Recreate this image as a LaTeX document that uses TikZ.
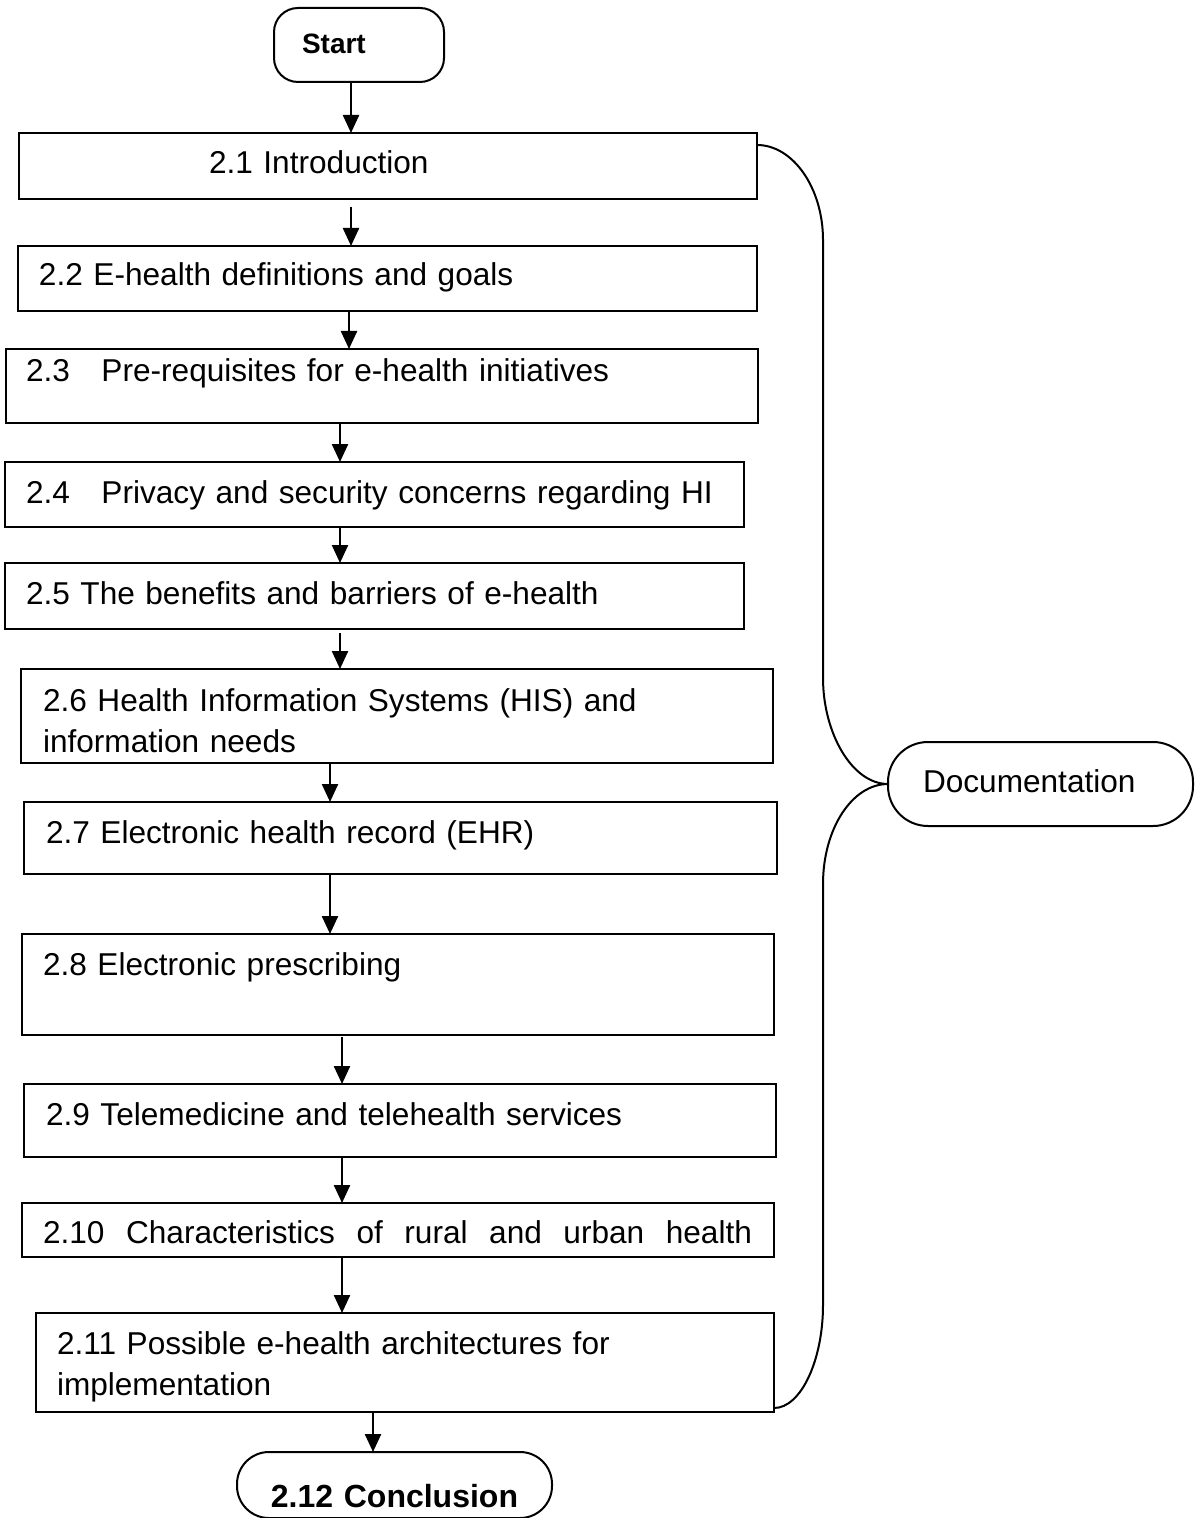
\documentclass[tikz,border=0pt]{standalone}
\usepackage{fontspec}
\setmainfont{Liberation Sans}
\usetikzlibrary{arrows.meta,calc}
\newcommand\secfont{\fontsize{15.8}{20.5}\selectfont\fontdimen2\font=3.6pt\relax}
\begin{document}
\begin{tikzpicture}[x=0.5pt,y=-0.5pt,
  secbox/.style={draw, line width=1pt, rectangle, anchor=north west, outer sep=0pt,
    inner ysep=0pt, align=left, font=\secfont},
  termbox/.style={draw, line width=1pt, rectangle, anchor=north west, outer sep=0pt,
    inner ysep=0pt},
  arr/.style={-{Triangle[length=9pt,width=8pt]}, line width=1.2pt},
  link/.style={line width=1pt}]
\useasboundingbox (0,0) rectangle (1195,1518);
\fill[white] (0,0) rectangle (1195,1518);

% terminals
\node[termbox, rounded corners=12pt, inner xsep=14pt, text width=57pt, align=left,
  text height=23pt, text depth=14pt, font=\fontsize{14}{17}\selectfont\bfseries]
  (start) at (274,8) {Start};

% chapter sections
\node[secbox, inner xsep=95pt, text width=179pt, text height=20.5pt, text depth=12.5pt]
  (b1) at (19,133) {2.1 Introduction};
\node[secbox, inner xsep=10.5pt, text width=348.5pt, text height=20pt, text depth=12.5pt]
  (b2) at (18,246) {2.2 E-health definitions and goals};
\node[secbox, inner xsep=10pt, text width=356pt, text height=16.5pt, text depth=20.5pt]
  (b3) at (6,349) {2.3~~~Pre-requisites for e-health initiatives};
\node[secbox, inner xsep=10.5pt, text width=348.5pt, text height=20.5pt, text depth=12pt]
  (b4) at (5,462) {2.4~~~Privacy and security concerns regarding HI};
\node[secbox, inner xsep=10.5pt, text width=348.5pt, text height=20.5pt, text depth=12.5pt]
  (b5) at (5,563) {2.5 The benefits and barriers of e-health};
\node[secbox, inner xsep=11pt, text width=354pt, text height=21pt, text depth=26pt]
  (b6) at (21,669) {2.6 Health Information Systems (HIS) and\\ information needs};
\node[secbox, inner xsep=11pt, text width=354.5pt, text height=20.5pt, text depth=15.5pt]
  (b7) at (24,802) {2.7 Electronic health record (EHR)};
\node[secbox, inner xsep=10.5pt, text width=355pt, text height=20.5pt, text depth=30pt]
  (b8) at (22,934) {2.8 Electronic prescribing};
\node[secbox, inner xsep=11pt, text width=354pt, text height=20.5pt, text depth=16pt]
  (b9) at (24,1084) {2.9 Telemedicine and telehealth services};
\node[secbox, inner xsep=10.5pt, text width=355pt, text height=20pt, text depth=7pt]
  (b10) at (22,1203) {\hbox to 354.5pt{2.10\hfill Characteristics\hfill of\hfill rural\hfill
    and\hfill urban\hfill health}};
\node[secbox, inner xsep=10.5pt, text width=348pt, text height=20.5pt, text depth=29pt]
  (b11) at (36,1313) {2.11 Possible e-health architectures for\\ implementation};

\node[termbox, rounded corners=16pt, inner xsep=0pt, text width=157.5pt, align=center,
  text height=27.5pt, text depth=5.5pt, font=\fontsize{16}{20.5}\selectfont\bfseries]
  (concl) at (237,1452) {2.12 Conclusion};

\node[termbox, rounded corners=20pt, inner xsep=17.5pt, text width=117.5pt, align=left,
  text height=25pt, text depth=17pt, font=\secfont]
  (doc) at (888,742) {Documentation};

% arrow columns
\coordinate (ca) at (351,0);
\coordinate (cb) at (349,0);
\coordinate (cc) at (340,0);
\coordinate (cd) at (330,0);
\coordinate (ce) at (342,0);
\coordinate (cf) at (373,0);

% flow arrows
\draw[arr] (start.south -| ca) -- (b1.north -| ca);
\draw[arr, shorten <=4pt] (b1.south -| ca) -- (b2.north -| ca);
\draw[arr] (b2.south -| cb) -- (b3.north -| cb);
\draw[arr] (b3.south -| cc) -- (b4.north -| cc);
\draw[arr] (b4.south -| cc) -- (b5.north -| cc);
\draw[arr, shorten <=2pt] (b5.south -| cc) -- (b6.north -| cc);
\draw[arr] (b6.south -| cd) -- (b7.north -| cd);
\draw[arr] (b7.south -| cd) -- (b8.north -| cd);
\draw[arr, shorten <=1pt] (b8.south -| ce) -- (b9.north -| ce);
\draw[arr] (b9.south -| ce) -- (b10.north -| ce);
\draw[arr] (b10.south -| ce) -- (b11.north -| ce);
\draw[arr] (b11.south -| cf) -- (concl.north -| cf);

% brace gathering the sections into the documentation
\draw[link] ($(b1.north east)+(0,12)$) .. controls (793,145) and (823,188) .. (823,240)
  -- (823,678) .. controls (823,733) and (852,784) .. (doc.west);
\draw[link] (doc.west) .. controls (852,784) and (823,829) .. (823,884)
  -- (823,1305) .. controls (823,1360) and (801,1408) .. ($(b11.south east)+(0,-4)$);
\end{tikzpicture}
\end{document}
